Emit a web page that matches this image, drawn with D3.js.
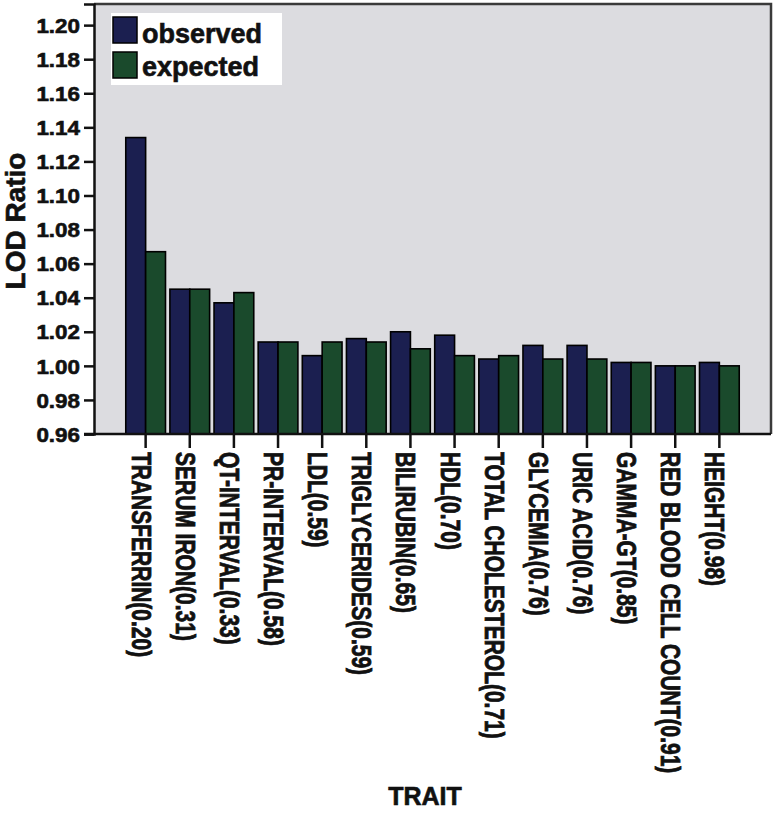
<!DOCTYPE html>
<html>
<head>
<meta charset="utf-8">
<script src="https://cdn.jsdelivr.net/npm/d3@7"></script>
<style>
  html, body { margin: 0; padding: 0; background: #ffffff; }
  svg { display: block; font-family: "Liberation Sans", Arial, sans-serif; font-weight: bold; }
  svg text { stroke: #111; stroke-width: 0.6px; }
</style>
</head>
<body>
<svg id="chart" width="779" height="813"></svg>
<script>
const categories = [
  "TRANSFERRIN(0.20)", "SERUM IRON(0.31)", "QT-INTERVAL(0.33)", "PR-INTERVAL(0.58)",
  "LDL(0.59)", "TRIGLYCERIDES(0.59)", "BILIRUBIN(0.65)", "HDL(0.70)",
  "TOTAL CHOLESTEROL(0.71)", "GLYCEMIA(0.76)", "URIC ACID(0.76)", "GAMMA-GT(0.85)",
  "RED BLOOD CELL COUNT(0.91)", "HEIGHT(0.98)"
];
const observed = [1.134, 1.045, 1.037, 1.014, 1.006, 1.016, 1.020, 1.018, 1.004, 1.012, 1.012, 1.002, 1.000, 1.002];
const expected = [1.067, 1.045, 1.043, 1.014, 1.014, 1.014, 1.010, 1.006, 1.006, 1.004, 1.004, 1.002, 1.000, 1.000];
const seriesNames = ["observed", "expected"];
const seriesColors = ["#1b1f50", "#1a4a2c"];
const yTicks = [0.96, 0.98, 1.00, 1.02, 1.04, 1.06, 1.08, 1.10, 1.12, 1.14, 1.16, 1.18, 1.20];

const svg = d3.select("#chart");
const pLeft = 94, pRight = 771, pTop = 4, pBottom = 434;

const x = d3.scaleBand().domain(categories).range([pLeft, pRight]).paddingInner(0.1).paddingOuter(0.72);
const xs = d3.scaleBand().domain(seriesNames).range([0, x.bandwidth()]).padding(0);
const y = d3.scaleLinear().domain([0.96, 1.2124]).range([pBottom, pTop]);

// plot background
svg.append("rect").attr("x", pLeft).attr("y", pTop).attr("width", pRight - pLeft).attr("height", pBottom - pTop)
  .attr("fill", "#dcdce0");

// bars
const data = categories.map((c, i) => ({ cat: c, values: [observed[i], expected[i]] }));
const groups = svg.append("g").selectAll("g").data(data).join("g")
  .attr("transform", d => `translate(${x(d.cat)},0)`);
groups.selectAll("rect").data(d => d.values.map((v, j) => ({ v, s: seriesNames[j], j })))
  .join("rect")
  .attr("x", d => xs(d.s))
  .attr("y", d => y(d.v))
  .attr("width", xs.bandwidth())
  .attr("height", d => y(0.96) - y(d.v))
  .attr("fill", d => seriesColors[d.j])
  .attr("stroke", "#000")
  .attr("stroke-width", 1.6);

// frame (top, right)
svg.append("path")
  .attr("d", `M${pLeft},${pTop}H${pRight}V${pBottom}`)
  .attr("fill", "none").attr("stroke", "#3a3a3a").attr("stroke-width", 2.5);

// y axis
const yAxis = d3.axisLeft(y).tickValues(yTicks).tickSize(10).tickFormat(d3.format(".2f"));
const yg = svg.append("g").attr("transform", `translate(${pLeft},0)`).call(yAxis);
yg.select(".domain").attr("stroke", "#111").attr("stroke-width", 2.5);
yg.selectAll(".tick line").attr("stroke", "#111").attr("stroke-width", 2.5);
yg.selectAll(".tick text").remove();
yg.selectAll(".tick").append("g")
  .attr("transform", "translate(-14,0) scale(1.12,1)")
  .append("text")
  .attr("text-anchor", "end").attr("dy", "0.36em")
  .attr("font-size", 20).attr("font-weight", "bold").attr("fill", "#111")
  .attr("font-family", "'Liberation Sans', Arial, sans-serif")
  .text(d => d3.format(".2f")(d));

// x axis
const xAxis = d3.axisBottom(x).tickSize(14).tickFormat("");
const xg = svg.append("g").attr("transform", `translate(0,${pBottom})`).call(xAxis);
xg.select(".domain").remove();
xg.selectAll(".tick line").attr("stroke", "#111").attr("stroke-width", 2.5);
xg.selectAll(".tick").append("text")
  .attr("transform", "translate(-14,18) rotate(90) scale(1,1.33)")
  .attr("text-anchor", "start")
  .attr("font-size", 21).attr("font-weight", "bold").attr("fill", "#111")
  .attr("font-family", "'Liberation Sans', Arial, sans-serif")
  .text(d => d);
svg.append("line").attr("x1", pLeft - 10).attr("x2", pRight).attr("y1", pBottom).attr("y2", pBottom)
  .attr("stroke", "#111").attr("stroke-width", 2.5);

// axis titles
svg.append("text").attr("transform", "translate(25,221) rotate(-90)")
  .attr("text-anchor", "middle").attr("font-size", 28).attr("font-weight", "bold").attr("fill", "#111")
  .text("LOD Ratio");
svg.append("text").attr("x", 425).attr("y", 805)
  .attr("text-anchor", "middle").attr("font-size", 25).attr("font-weight", "bold").attr("fill", "#111")
  .text("TRAIT");

// legend
const lg = svg.append("g");
lg.append("rect").attr("x", 111).attr("y", 13).attr("width", 171).attr("height", 72).attr("fill", "#ffffff");
seriesNames.forEach((name, i) => {
  lg.append("rect").attr("x", 113).attr("y", 17 + i * 35).attr("width", 24).attr("height", 26)
    .attr("fill", seriesColors[i]).attr("stroke", "#000").attr("stroke-width", 1.5);
  lg.append("text").attr("x", 142).attr("y", 43 + i * 33)
    .attr("font-size", 27).attr("font-weight", "bold").attr("fill", "#111")
    .text(name);
});
</script>
</body>
</html>
